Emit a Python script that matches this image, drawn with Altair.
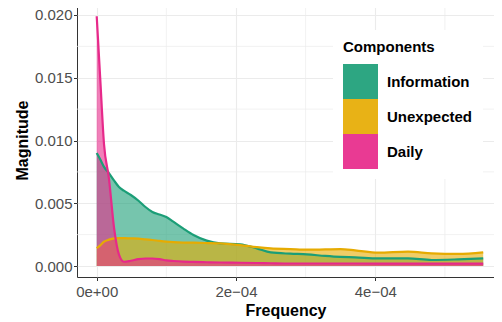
import altair as alt
import pandas as pd

# Frequency grid (Hz) and component magnitudes
freq = [0.0, 0.5e-5, 1.05e-5, 1.75e-5, 2.5e-5, 3.2e-5, 3.9e-5, 4.9e-5, 6.0e-5, 7.0e-5,
        8.0e-5, 9.0e-5, 10.0e-5, 11.0e-5, 12.4e-5, 13.9e-5, 15.8e-5, 17.7e-5, 20.6e-5,
        23.0e-5, 25.0e-5, 27.8e-5, 30.2e-5, 32.8e-5, 35.0e-5, 37.1e-5, 40.4e-5, 44.7e-5,
        48.1e-5, 51.9e-5, 55.5e-5]
information = [0.0090, 0.0085, 0.0079, 0.0074, 0.0068, 0.0063, 0.0060, 0.00566, 0.0052, 0.0047,
               0.0043, 0.0041, 0.0039, 0.00353, 0.0030, 0.00247, 0.00202, 0.0018, 0.00173,
               0.0014, 0.00108, 0.00098, 0.00093, 0.0008, 0.00072, 0.00069, 0.00061, 0.00061,
               0.00048, 0.00053, 0.00061]
unexpected = [0.00143, 0.00165, 0.00194, 0.0021, 0.0022, 0.00222, 0.00222, 0.0022, 0.00218, 0.00212,
              0.00207, 0.0020, 0.00194, 0.0019, 0.00187, 0.00186, 0.00183, 0.0018, 0.00167,
              0.0015, 0.0014, 0.00135, 0.0013, 0.00132, 0.00134, 0.00125, 0.00106, 0.00114,
              0.00101, 0.00096, 0.00109]
daily = [0.0199, 0.0150, 0.0097, 0.0070, 0.0030, 0.0009, 0.00034, 0.00042, 0.00055, 0.0006,
         0.0006, 0.00055, 0.00045, 0.0004, 0.00035, 0.00033, 0.0003, 0.00028, 0.00026,
         0.00024, 0.00022, 0.0002, 0.0002, 0.0002, 0.0002, 0.0002, 0.00019, 0.00019,
         0.00019, 0.00019, 0.00019]

components = ["Information", "Unexpected", "Daily"]
colors = ["#1B9E77", "#E6AB02", "#E7298A"]

x_ticks = [0.0, 2e-4, 4e-4]
x_tick_labels = ["0e+00", "2e\u221204", "4e\u221204"]
x_minor = [1e-4, 3e-4, 5e-4]
y_ticks = [0.0, 0.005, 0.010, 0.015, 0.020]
y_minor = [0.0025, 0.0075, 0.0125, 0.0175]

x_domain = [-2.83e-5, 5.705e-4]
y_domain = [-0.000876, 0.020956]

rows = []
for name, vals in zip(components, [information, unexpected, daily]):
    for f, v in zip(freq, vals):
        rows.append({"Frequency": f, "Magnitude": v, "Components": name})
df = pd.DataFrame(rows)

label_expr = " : ".join(
    f"datum.value < {t + 1e-5} ? '{l}'" for t, l in zip(x_ticks[:-1], x_tick_labels[:-1])
) + f" : '{x_tick_labels[-1]}'"

xscale = alt.Scale(domain=x_domain, nice=False, zero=False)
yscale = alt.Scale(domain=y_domain, nice=False, zero=False)
xaxis = alt.Axis(values=x_ticks, labelExpr=label_expr, title="Frequency", grid=True)
yaxis = alt.Axis(values=y_ticks, format=".3f", title="Magnitude", grid=True)
cscale = alt.Scale(domain=components, range=colors)

minor_x = alt.Chart(pd.DataFrame({"Frequency": x_minor})).mark_rule(
    color="#EBEBEB", strokeWidth=0.7
).encode(x=alt.X("Frequency:Q", scale=xscale, axis=xaxis))
minor_y = alt.Chart(pd.DataFrame({"Magnitude": y_minor})).mark_rule(
    color="#EBEBEB", strokeWidth=0.7
).encode(y=alt.Y("Magnitude:Q", scale=yscale, axis=yaxis))

layers = [minor_x, minor_y]
for name in components:
    layers.append(
        alt.Chart(df).transform_filter(alt.datum.Components == name).mark_area(
            opacity=0.6, interpolate="monotone", clip=True
        ).encode(
            x=alt.X("Frequency:Q", scale=xscale, axis=xaxis),
            y=alt.Y("Magnitude:Q", scale=yscale, axis=yaxis, stack=None),
            color=alt.Color("Components:N", scale=cscale,
                            legend=alt.Legend(title="Components", symbolOpacity=0.92)),
        )
    )
for name in components:
    layers.append(
        alt.Chart(df).transform_filter(alt.datum.Components == name).mark_line(
            strokeWidth=2.2, interpolate="monotone", clip=True
        ).encode(
            x=alt.X("Frequency:Q", scale=xscale, axis=xaxis),
            y=alt.Y("Magnitude:Q", scale=yscale, axis=yaxis),
            color=alt.Color("Components:N", scale=cscale,
                            legend=alt.Legend(title="Components", symbolOpacity=0.92)),
        )
    )

chart = alt.layer(*layers).properties(
    width=417, height=274,
    autosize=alt.AutoSizeParams(type="none"),
    padding={"left": 69, "top": -5, "right": 0, "bottom": 42},
).configure(
    font="Liberation Sans",
).configure_view(
    stroke="#333333", strokeWidth=1,
).configure_axis(
    labelFontSize=15, labelColor="#4D4D4D", titleFontSize=16, titleFontWeight="bold",
    titleColor="#000000", tickColor="#333333", tickSize=3.5, domain=False,
    gridColor="#EBEBEB", gridWidth=1.1,
).configure_axisX(
    labelPadding=3.5, titlePadding=3.5,
).configure_axisY(
    labelPadding=1.5, titlePadding=4,
).configure_legend(
    orient="none", legendX=256, legendY=27, fillColor="white", padding=10,
    symbolType="square", symbolSize=1225, symbolStrokeWidth=0, symbolOpacity=0.92,
    titleFontSize=15, titleFontWeight="bold", titleColor="#000000",
    labelFontSize=15, labelFontWeight="bold", labelColor="#000000",
    labelOffset=9, rowPadding=0, titlePadding=9,
)

chart.save("out.html", embed_options={"renderer": "svg", "actions": False})
